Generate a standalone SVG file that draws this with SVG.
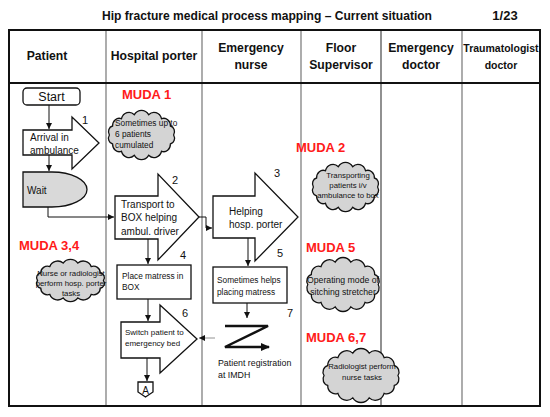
<svg xmlns="http://www.w3.org/2000/svg" width="550" height="417" viewBox="0 0 550 417">
<style>
text{font-family:"Liberation Sans",Arial,sans-serif;fill:#111}
.title{font-size:12px;font-weight:bold}
.hdr{font-size:12.2px;font-weight:bold;text-anchor:middle}
.hdrs{font-size:10.5px;font-weight:bold;text-anchor:middle}
.muda{font-size:13px;font-weight:bold;fill:#ff1a1a}
.shape{fill:#fff;stroke:#111;stroke-width:1.3}
.grey{fill:#d9d9d9;stroke:#111;stroke-width:1.3}
.t10{font-size:10px}
.t8{font-size:8.3px}
.num{font-size:11px}
.cl{font-size:7.8px;text-anchor:middle}
.div{stroke:#808080;stroke-width:1.3}
.conn{fill:none;stroke:#111;stroke-width:1;marker-end:url(#ah)}
</style>
<defs>
<marker id="ah" markerWidth="6" markerHeight="6" refX="6" refY="3" orient="auto" markerUnits="userSpaceOnUse"><path d="M0,0 L6,3 L0,6 z" fill="#111"/></marker>
<marker id="ahz" markerWidth="9" markerHeight="8" refX="8" refY="4" orient="auto" markerUnits="userSpaceOnUse"><path d="M0,0 L9,4 L0,8 z" fill="#111"/></marker>
<symbol id="cloud" viewBox="0 0 100 60" preserveAspectRatio="none" overflow="visible">
<path d="M6,30 A7,7 0 0 1 10.4,19.2 A9,9 0 0 1 22.5,10.5 A11,11 0 0 1 40.2,5.6 A12,12 0 0 1 59.8,5.6 A11,11 0 0 1 77.5,10.5 A9,9 0 0 1 89.6,19.2 A7,7 0 0 1 94,30 A7,7 0 0 1 89.6,40.8 A9,9 0 0 1 77.5,49.5 A11,11 0 0 1 59.8,54.4 A12,12 0 0 1 40.2,54.4 A11,11 0 0 1 22.5,49.5 A9,9 0 0 1 10.4,40.8 A7,7 0 0 1 6,30 Z" fill="#d4d4d4" stroke="#111" stroke-width="1.3" vector-effect="non-scaling-stroke"/>
</symbol>
</defs>
<rect width="550" height="417" fill="#fff"/>
<g id="title">
<text class="title" x="267" y="20" text-anchor="middle" textLength="330" lengthAdjust="spacingAndGlyphs">Hip fracture medical process mapping – Current situation</text>
<text class="title" x="505" y="20" text-anchor="middle" style="font-size:13px">1/23</text>
</g>
<g id="table">
<line class="div" x1="106" y1="30" x2="106" y2="406"/>
<line class="div" x1="202" y1="30" x2="202" y2="406"/>
<line class="div" x1="301" y1="30" x2="301" y2="406"/>
<line class="div" x1="381" y1="30" x2="381" y2="406" style="stroke:#555"/>
<line class="div" x1="462" y1="30" x2="462" y2="406"/>
<rect x="9" y="30" width="531" height="376" fill="none" stroke="#111" stroke-width="2"/>
<line x1="9" y1="83" x2="540" y2="83" stroke="#111" stroke-width="2"/>
<text class="hdr" x="47" y="60">Patient</text>
<text class="hdr" x="154" y="60">Hospital porter</text>
<text class="hdr" x="251" y="52">Emergency</text>
<text class="hdr" x="251" y="69">nurse</text>
<text class="hdr" x="341" y="52">Floor</text>
<text class="hdr" x="341" y="69">Supervisor</text>
<text class="hdr" x="421" y="52">Emergency</text>
<text class="hdr" x="421" y="69">doctor</text>
<text class="hdrs" x="501" y="52">Traumatologist</text>
<text class="hdrs" x="501" y="69">doctor</text>
</g>
<g id="connectors">
<path class="conn" d="M49,105 V129"/>
<path class="conn" d="M49,155 V171"/>
<path class="conn" d="M48,207 V217 H114"/>
<path class="conn" d="M199,217 H206 V228 H212"/>
<path class="conn" d="M148,239 V264"/>
<path class="conn" d="M148,299 V321"/>
<path class="conn" d="M147,358 V381"/>
<path class="conn" d="M248,238 V266"/>
<path class="conn" d="M247,303 V318"/>
<path class="conn" d="M215,338 H199" style="stroke:#777;stroke-width:0.8"/>
</g>
<g id="start">
<rect class="shape" x="23" y="88" width="57" height="17" rx="4"/>
<text x="51.5" y="101" text-anchor="middle" style="font-size:12.5px">Start</text>
</g>
<g id="arrival">
<polygon class="shape" points="23,130 72,130 72,117 99,143 72,169 72,155 23,155"/>
<text class="t10" x="30" y="141">Arrival in</text>
<text class="t10" x="30" y="154">ambulance</text>
<text class="num" x="82" y="124">1</text>
</g>
<g id="wait">
<path class="grey" d="M23,172 H52 A35,17.5 0 0 1 52,207 H23 Z"/>
<text class="t10" x="27" y="194">Wait</text>
</g>
<g id="transport">
<polygon class="shape" points="115,196 158,196 158,174 199,217 158,260 158,239 115,239"/>
<text class="t10" x="121" y="208">Transport to</text>
<text class="t10" x="121" y="221">BOX helping</text>
<text class="t10" x="121" y="235">ambul. driver</text>
<text class="num" x="172" y="184">2</text>
</g>
<g id="helping">
<polygon class="shape" points="213,196 255,196 255,173 298,217 255,261 255,238 213,238"/>
<text class="t10" x="229" y="215">Helping</text>
<text class="t10" x="229" y="228">hosp. porter</text>
<text class="num" x="274" y="177">3</text>
</g>
<g id="place-matress">
<rect class="shape" x="117" y="265" width="74" height="34"/>
<text class="t8" x="122" y="279">Place matress in</text>
<text class="t8" x="122" y="290">BOX</text>
<text class="num" x="180" y="259">4</text>
</g>
<g id="sometimes-helps">
<rect class="shape" x="213" y="267" width="74" height="36"/>
<text class="t8" x="217" y="283">Sometimes helps</text>
<text class="t8" x="217" y="295">placing  matress</text>
<text class="num" x="277" y="257">5</text>
</g>
<g id="switch">
<polygon class="shape" points="121,322 160,322 160,305 197,339 160,373 160,358 121,358"/>
<text x="125" y="335" style="font-size:8px">Switch patient to</text>
<text x="125" y="346" style="font-size:8px">emergency bed</text>
<text class="num" x="182" y="317">6</text>
</g>
<g id="registration">
<path d="M225,326 H268 L225,347 H269" fill="none" stroke="#111" stroke-width="2.5" marker-end="url(#ahz)"/>
<text x="218" y="366" style="font-size:8.8px">Patient registration</text>
<text x="218" y="378" style="font-size:8.8px">at IMDH</text>
<text class="num" x="287" y="317">7</text>
</g>
<g id="connector-a">
<path class="shape" d="M138,382 H153 V392 L145.5,397 L138,392 Z"/>
<text x="145.5" y="393.5" text-anchor="middle" style="font-size:10px">A</text>
</g>
<g id="muda1">
<text class="muda" x="122" y="99">MUDA 1</text>
<use href="#cloud" x="105" y="110" width="73" height="50"/>
<text x="115" y="126" style="font-size:8.3px">Sometimes up to</text>
<text x="115" y="137" style="font-size:8.3px">6 patients</text>
<text x="115" y="148" style="font-size:8.3px">cumulated</text>
</g>
<g id="muda2">
<text class="muda" x="296" y="152">MUDA 2</text>
<use href="#cloud" x="309" y="162" width="73" height="50"/>
<text class="cl" x="348" y="178">Transporting</text>
<text class="cl" x="348" y="188">patients i/v</text>
<text class="cl" x="348" y="198">ambulance to box</text>
</g>
<g id="muda34">
<text class="muda" x="19" y="250">MUDA 3,4</text>
<use href="#cloud" x="33" y="259" width="75" height="43"/>
<text class="cl" x="71" y="276">Nurse or radiologist</text>
<text class="cl" x="71" y="286">perform hosp. porter</text>
<text class="cl" x="71" y="296">tasks</text>
</g>
<g id="muda5">
<text class="muda" x="306" y="252">MUDA 5</text>
<use href="#cloud" x="303" y="257" width="80" height="55"/>
<text class="cl" x="343" y="283" style="font-size:8.7px">Operating mode of</text>
<text class="cl" x="343" y="295" style="font-size:8.7px">sitching stretcher</text>
</g>
<g id="muda67">
<text class="muda" x="306" y="342">MUDA 6,7</text>
<use href="#cloud" x="319" y="348" width="84" height="55"/>
<text class="cl" x="362" y="369">Radiologist perform</text>
<text class="cl" x="362" y="380">nurse tasks</text>
</g>
</svg>
